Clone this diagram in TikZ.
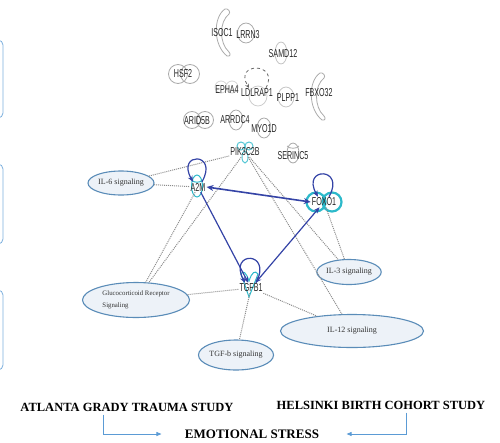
\documentclass[tikz,border=0pt]{standalone}
\usepackage{fontspec}
\setmainfont{Liberation Serif}
\newfontfamily\genefont[FakeStretch=0.62]{Liberation Sans}
\usepackage{tikz}
\usetikzlibrary{shapes,arrows.meta,positioning}
\definecolor{netblue}{HTML}{3443A6}
\definecolor{molcyan}{HTML}{2CB9CA}
\definecolor{molgray}{HTML}{ABABAB}
\definecolor{fnfill}{HTML}{EDF2F8}
\definecolor{fnborder}{HTML}{5A8CB8}
\definecolor{studyblue}{HTML}{5B9BD5}
\begin{document}
\begin{tikzpicture}[x=1pt,y=-1pt]
\tikzstyle{gene}=[font=\genefont\fontsize{11.5}{11.5}\selectfont, text=black!85, inner sep=1pt]
\tikzstyle{pathway}=[ellipse, draw=fnborder, fill=fnfill, line width=1.1pt, font=\fontsize{8}{9}\selectfont, text=black!80, inner sep=0pt]
\tikzstyle{outline}=[draw=molgray, line width=0.8pt]
\tikzstyle{focus}=[draw=molcyan, line width=1pt]
\tikzstyle{acts}=[draw=netblue, line width=1.2pt, -{Stealth[length=6pt,width=5pt]}]
\tikzstyle{overlap}=[draw=black!45, densely dotted, line width=1pt]
\tikzstyle{study}=[font=\bfseries\fontsize{12.5}{13}\selectfont]
\tikzstyle{studyarrow}=[draw=studyblue, line width=0.8pt, -{Triangle[length=5pt,width=4pt]}]
\useasboundingbox (0,0) rectangle (500,442);
\draw[studyblue!80, line width=0.8pt, rounded corners=5pt] (-20,40) rectangle (3,118)
  (-20,164) rectangle (3,244) (-20,290) rectangle (3,370);
% molecule outlines
\draw[outline] (225,9) .. controls (213,17) and (213,45) .. (227,56) .. controls (230,57) and (231,54) .. (229,52)
  .. controls (219,43) and (219,22) .. (229,14) .. controls (231,12) and (228,8) .. (225,9);
\draw[outline, shift={(95,64)}] (225,9) .. controls (213,17) and (213,45) .. (227,56) .. controls (230,57) and (231,54) .. (229,52)
  .. controls (219,43) and (219,22) .. (229,14) .. controls (231,12) and (228,8) .. (225,9);
\draw[outline] (246,33) ellipse [x radius=8.5, y radius=10];
\draw[outline, draw=molgray!70] (281,53) ellipse [x radius=6, y radius=11];
\draw[outline] (178,74) circle (9.5) (190,74) circle (9.5);
\draw[outline, draw=molgray!50] (221,87) circle (6) (232,87) circle (6);
\draw[outline, draw=molgray!60] (258,96) ellipse [x radius=9, y radius=10];
\draw[outline, draw=molgray!70] (286,97) ellipse [x radius=8, y radius=10];
\draw[outline] (192,120) circle (8.5) (205,120) circle (8.5);
\draw[outline] (236,120) ellipse [x radius=7, y radius=10];
\draw[outline] (264,128) ellipse [x radius=7, y radius=10];
\draw[outline] (293,153) ellipse [x radius=6, y radius=10] (287,146) .. controls (289,149) and (297,149) .. (299,146);
\draw[focus, draw=molcyan!80] (241,146) circle (4) (249,146) circle (4) (245,157) ellipse [x radius=3, y radius=6];
\draw[focus] (197,186) ellipse [x radius=5.5, y radius=11] (191.5,180) .. controls (194,183) and (200,183) .. (202.5,180);
\draw[focus, line width=2.2pt] (316,202) circle (9.5) (332,202) circle (9.5);
\draw[focus] (241,274) -- (249,297) -- (258,274) .. controls (255,270) and (252,272) .. (249,281)
  .. controls (246,272) and (243,270) .. (241,274);
% gene labels
\node[gene] (isoc1) at (222,33) {ISOC1};
\node[gene] (lrrn3) at (248,35) {LRRN3};
\node[gene] (samd12) at (283,54) {SAMD12};
\node[gene] (hsf2) at (183,74) {HSF2};
\node[gene] (epha4) at (227,90) {EPHA4};
\node[gene] (ldlrap1) at (257,93) {LDLRAP1};
\node[gene] (plpp1) at (288,98) {PLPP1};
\node[gene] (fbxo32) at (319,93) {FBXO32};
\node[gene] (arid5b) at (197,121) {ARID5B};
\node[gene] (arrdc4) at (235,120) {ARRDC4};
\node[gene] (myo1d) at (264,129) {MYO1D};
\node[gene] (pik3c2b) at (245,152) {PIK3C2B};
\node[gene] (serinc5) at (293,156) {SERINC5};
\node[gene] (a2m) at (198,187) {A2M};
\node[gene] (foxo1) at (324,202) {FOXO1};
\node[gene] (tgfb1) at (251,288) {TGFB1};
% pathways
\node[pathway, minimum width=66, minimum height=24] (il6) at (121,183) {IL-6 signaling};
\node[pathway, minimum width=64, minimum height=25] (il3) at (349,272) {IL-3 signaling};
\node[pathway, minimum width=107, minimum height=35, align=left, font=\fontsize{6.8}{12}\selectfont] (gcr) at (136,300) {Glucocorticoid Receptor\\Signaling};
\node[pathway, minimum width=72, minimum height=30] (tgfbsig) at (236,355) {TGF-b signaling};
\node[pathway, minimum width=143, minimum height=33] (il12) at (352,331) {IL-12 signaling};
\path[overlap] (il6) edge (a2m) edge (pik3c2b)
  (pik3c2b) edge (gcr) edge (il3) edge (il12)
  (a2m) edge (gcr)
  (foxo1) edge (il3)
  (tgfb1) edge (gcr) edge (tgfbsig) edge (il12);
\draw[outline, draw=black!60, dashed, -{Stealth[length=4pt,width=4pt]}] ([xshift=9pt]ldlrap1.north) .. controls +(14,-26) and +(-16,-26) .. ([xshift=-8pt]ldlrap1.north);
\draw[acts, {Stealth[length=7pt,width=6pt]}-{Stealth[length=7pt,width=6pt]}, line width=1.6pt] (a2m.east) -- (foxo1.west);
\draw[acts] (a2m) -- (tgfb1);
\draw[acts, {Stealth[length=6pt,width=5pt]}-{Stealth[length=6pt,width=5pt]}] (tgfb1) -- (foxo1);
\draw[acts] ([xshift=4pt]a2m.north) .. controls +(17,-30) and +(-17,-30) .. ([xshift=-5pt]a2m.north);
\draw[acts] ([xshift=5pt]foxo1.north) .. controls +(17,-30) and +(-17,-30) .. ([xshift=-6pt]foxo1.north);
\draw[acts] ([xshift=5pt]tgfb1.north) .. controls +(17,-32) and +(-17,-32) .. ([xshift=-6pt]tgfb1.north);
% studies
\node[study] (atlanta) at (127,407) {ATLANTA GRADY TRAUMA STUDY};
\node[study] (helsinki) at (381,405) {HELSINKI BIRTH COHORT STUDY};
\node[study, font=\bfseries\fontsize{13}{14}\selectfont] (stress) at (252,434) {EMOTIONAL STRESS};
\draw[studyarrow] ([xshift=-24pt]atlanta.south) |- ([xshift=-20pt]stress.west);
\draw[studyarrow] ([xshift=25pt]helsinki.south) |- ([xshift=24pt]stress.east);
\end{tikzpicture}
\end{document}
